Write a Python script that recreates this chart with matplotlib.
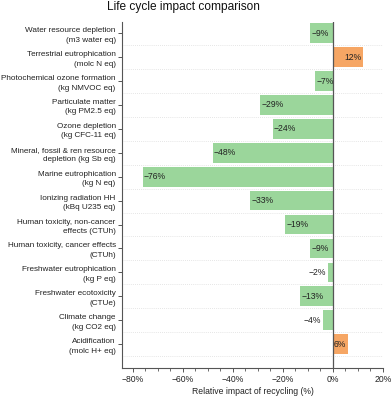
import matplotlib
matplotlib.use("Agg")
import matplotlib.pyplot as plt
from matplotlib.ticker import PercentFormatter, MultipleLocator

plt.rcParams['font.family'] = ['Liberation Sans', 'DejaVu Sans']

# data
categories = [
    "Water resource depletion\n(m3 water eq)",
    "Terrestrial eutrophication\n(molc N eq)",
    "Photochemical ozone formation\n(kg NMVOC eq)",
    "Particulate matter\n(kg PM2.5 eq)",
    "Ozone depletion\n(kg CFC-11 eq)",
    "Mineral, fossil & ren resource\ndepletion (kg Sb eq)",
    "Marine eutrophication\n(kg N eq)",
    "Ionizing radiation HH\n(kBq U235 eq)",
    "Human toxicity, non-cancer\neffects (CTUh)",
    "Human toxicity, cancer effects\n(CTUh)",
    "Freshwater eutrophication\n(kg P eq)",
    "Freshwater ecotoxicity\n(CTUe)",
    "Climate change\n(kg CO2 eq)",
    "Acidification\n(molc H+ eq)",
]
values = [-9, 12, -7, -29, -24, -48, -76, -33, -19, -9, -2, -13, -4, 6]

green = '#9bd69b'
orange = '#f6a664'
axis_col = '#555555'

fig = plt.figure(figsize=(3.92, 3.97), dpi=100)
ax = fig.add_axes([0.311, 0.073, 0.666, 0.8716])

ypos = list(range(len(categories)))
colors = [orange if v > 0 else green for v in values]
ax.barh(ypos, values, height=0.82, color=colors, zorder=2)

# bar value labels
for y, v in zip(ypos, values):
    txt = f"{v}%".replace('-', '\u2212')
    if v > 0:
        ax.annotate(txt, (v, y), xytext=(-1.2, 0), textcoords='offset points',
                    ha='right', va='center', fontsize=6.2, color='#222222', zorder=4)
    elif abs(v) >= 5:
        ax.annotate(txt, (v, y), xytext=(0.8, 0), textcoords='offset points',
                    ha='left', va='center', fontsize=6.2, color='#222222', zorder=4)
    else:
        ax.annotate(txt, (v, y), xytext=(-1.2, 0), textcoords='offset points',
                    ha='right', va='center', fontsize=6.2, color='#222222', zorder=4)

# dotted separators between rows
for k in range(len(categories)):
    ax.axhline(k + 0.5, color='#dddddd', lw=0.6, ls=(0, (1, 1.5)), zorder=1)

ax.axvline(0, color=axis_col, lw=0.9, zorder=3)

ax.set_xlim(-84.3, 20)
ax.set_ylim(14.0, -0.47)
ax.set_yticks(ypos)
ax.set_yticklabels(categories, fontsize=5.9, color='#222222', linespacing=1.5)
ax.xaxis.set_major_locator(MultipleLocator(20))
ax.xaxis.set_minor_locator(MultipleLocator(5))
ax.xaxis.set_major_formatter(PercentFormatter(decimals=0))
ax.tick_params(axis='x', labelsize=6.2, colors=axis_col, labelcolor='#222222',
               length=3, width=0.7, pad=2)
ax.tick_params(axis='x', which='minor', length=1.8, width=0.6, colors=axis_col)
ax.tick_params(axis='y', length=3, width=0.7, colors=axis_col,
               labelcolor='#222222', pad=1.5)

for s in ['top', 'right']:
    ax.spines[s].set_visible(False)
for s in ['left', 'bottom']:
    ax.spines[s].set_color(axis_col)
    ax.spines[s].set_linewidth(0.8)

ax.set_xlabel("Relative impact of recycling (%)", fontsize=6.2, color='#222222',
              labelpad=2.5)
fig.text(0.468, 0.982, "Life cycle impact comparison", ha='center', va='center',
         fontsize=8.6, color='#111111')

fig.savefig("out.png", dpi=100)
